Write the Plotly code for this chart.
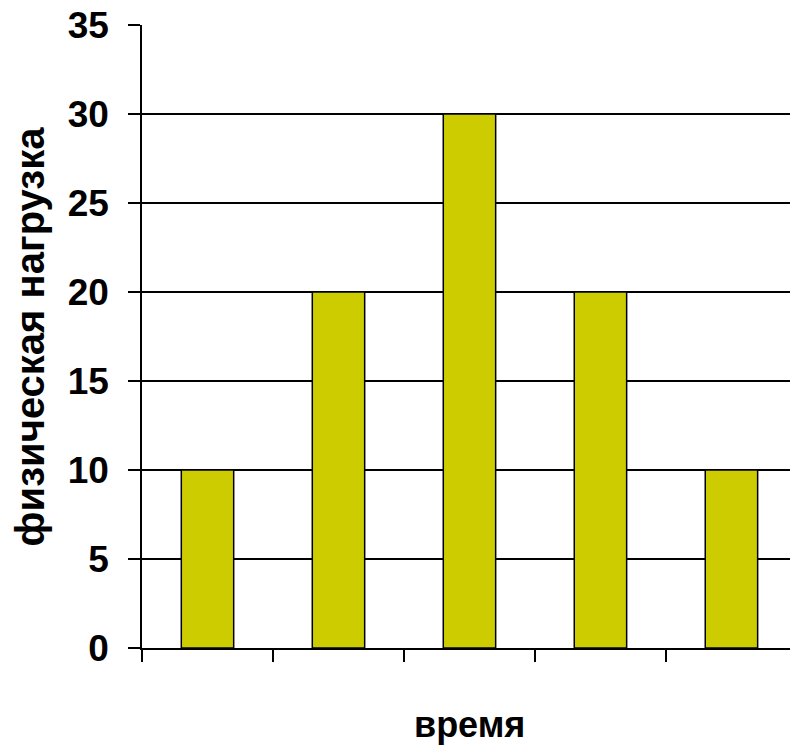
import plotly.graph_objects as go

categories = ["1", "2", "3", "4", "5"]
values = [10, 20, 30, 20, 10]
y_tick_values = [0, 5, 10, 15, 20, 25, 30, 35]
y_title = "физическая нагрузка"
x_title = "время"

fig = go.Figure()
fig.add_trace(go.Bar(
    x=categories, y=values, width=0.4,
    marker=dict(color="#CCCC00", line=dict(color="black", width=1.5)),
))

fig.update_layout(
    width=790, height=751,
    margin=dict(l=142, r=0, t=25, b=103),
    plot_bgcolor="white", paper_bgcolor="white",
    showlegend=False,
    font=dict(family="Liberation Sans, Arial, sans-serif", color="black"),
)
fig.update_xaxes(
    type="category", range=[-0.5, 4.447],
    tickson="boundaries", ticks="outside", ticklen=12, tickwidth=1.5, tickcolor="black",
    showticklabels=False, showgrid=False, zeroline=False,
    showline=True, linecolor="black", linewidth=1.5,
)
fig.update_yaxes(
    range=[0, 35], tickvals=y_tick_values, ticks="outside", ticklen=12, tickwidth=1.5,
    tickcolor="black", showgrid=True, gridcolor="black", gridwidth=1.5,
    zeroline=False, showline=True, linecolor="black", linewidth=1.5,
    tickfont=dict(size=37, weight="bold", family="Liberation Sans, Arial, sans-serif"),
    ticklabelstandoff=12,
)
fig.add_annotation(
    text=x_title, xref="x", yref="paper", x=2, y=-0.122,
    xanchor="center", yanchor="middle", showarrow=False,
    font=dict(size=36, weight="bold"),
)
fig.add_annotation(
    text=y_title, xref="paper", yref="paper", x=-0.173, y=0.5,
    xanchor="center", yanchor="middle", textangle=-90, showarrow=False,
    font=dict(size=40, weight="bold"),
)
fig.write_html(
    "out.html",
    config={"displayModeBar": False},
    post_script="document.body.style.margin='0';document.body.style.overflow='hidden';",
)
